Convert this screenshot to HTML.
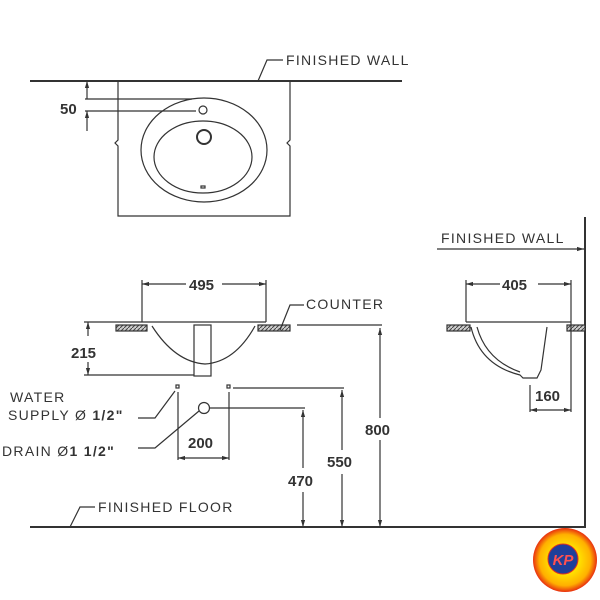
<!DOCTYPE html>
<html><head><meta charset="utf-8"><style>body{margin:0;background:#fff}svg{display:block}</style></head><body>
<svg width="600" height="600" viewBox="0 0 600 600" xmlns="http://www.w3.org/2000/svg" font-family="Liberation Sans, sans-serif">
<defs>
<marker id="a" viewBox="0 0 10 10" refX="10" refY="5" markerWidth="6" markerHeight="6" orient="auto-start-reverse"><path d="M0,2L10,5L0,8z" fill="#333"/></marker>
<pattern id="h" width="4" height="4" patternUnits="userSpaceOnUse"><rect width="4" height="4" fill="#ccc"/><path d="M0,4L4,0" stroke="#444" stroke-width="1"/></pattern>
<radialGradient id="lg"><stop offset="0.45" stop-color="#ffe000"/><stop offset="0.8" stop-color="#ffb000"/><stop offset="1" stop-color="#e83010"/></radialGradient>
</defs>
<g stroke="#333" fill="none" stroke-width="1.2">
<line x1="30" y1="81" x2="402" y2="81" stroke-width="2"/>
<path d="M118,81V140l-3,3l3,3V216H290V146l-3,-3l3,-3V81"/>
<ellipse cx="204" cy="150" rx="63" ry="52"/>
<ellipse cx="203" cy="157" rx="49" ry="36"/>
<circle cx="203" cy="110" r="4"/>
<circle cx="204" cy="137" r="7" stroke-width="2"/>
<rect x="201" y="186" width="4" height="2"/>
<line x1="85" y1="99" x2="192" y2="99"/><line x1="85" y1="111" x2="196" y2="111"/>
<line x1="87" y1="81" x2="87" y2="99" marker-start="url(#a)"/><line x1="87" y1="111" x2="87" y2="131" marker-start="url(#a)"/>
<path d="M258,81L267,60H283"/>
<line x1="142" y1="280" x2="142" y2="322"/><line x1="266" y1="280" x2="266" y2="322"/>
<line x1="142" y1="284" x2="186" y2="284" marker-start="url(#a)"/><line x1="222" y1="284" x2="266" y2="284" marker-end="url(#a)"/>
<line x1="84" y1="322" x2="266" y2="322"/>
<rect x="116" y="325" width="31" height="6" fill="url(#h)"/>
<rect x="258" y="325" width="32" height="6" fill="url(#h)"/>
<path d="M152,326Q175,362 205,364Q235,362 255,326"/>
<rect x="194" y="325" width="17" height="51"/>
<line x1="84" y1="375" x2="194" y2="375"/>
<line x1="88" y1="322" x2="88" y2="336" marker-start="url(#a)"/><line x1="88" y1="362" x2="88" y2="375" marker-end="url(#a)"/>
<path d="M280,330L290,305H304"/>
<line x1="297" y1="325" x2="382" y2="325"/>
<line x1="380" y1="328" x2="380" y2="418" marker-start="url(#a)"/><line x1="380" y1="440" x2="380" y2="527" marker-end="url(#a)"/>
<rect x="176" y="385" width="3" height="3"/><rect x="227" y="385" width="3" height="3"/>
<circle cx="204" cy="408" r="5.5"/>
<line x1="233" y1="388" x2="344" y2="388"/>
<line x1="342" y1="390" x2="342" y2="450" marker-start="url(#a)"/><line x1="342" y1="474" x2="342" y2="527" marker-end="url(#a)"/>
<line x1="210" y1="408" x2="305" y2="408"/>
<line x1="303" y1="410" x2="303" y2="468" marker-start="url(#a)"/><line x1="303" y1="492" x2="303" y2="527" marker-end="url(#a)"/>
<line x1="178" y1="392" x2="178" y2="460"/><line x1="229" y1="392" x2="229" y2="460"/>
<line x1="178" y1="458" x2="229" y2="458" marker-start="url(#a)" marker-end="url(#a)"/>
<path d="M138,418H155L175,391"/>
<path d="M138,448H155L199,411"/>
<line x1="30" y1="527" x2="585" y2="527" stroke-width="2"/>
<path d="M70,527L80,507H95"/>
<line x1="585" y1="217" x2="585" y2="528" stroke-width="2"/>
<line x1="437" y1="249" x2="584" y2="249" marker-end="url(#a)"/>
<line x1="466" y1="280" x2="466" y2="322"/><line x1="571" y1="280" x2="571" y2="322"/>
<line x1="466" y1="284" x2="500" y2="284" marker-start="url(#a)"/><line x1="538" y1="284" x2="571" y2="284" marker-end="url(#a)"/>
<line x1="466" y1="322" x2="571" y2="322"/>
<rect x="447" y="325" width="23" height="6" fill="url(#h)"/>
<rect x="567" y="325" width="18" height="6" fill="url(#h)"/>
<path d="M471,327Q480,365 520,375L523,378H537L541,370L547,327"/>
<path d="M477,327Q486,360 520,372"/>
<line x1="530" y1="385" x2="530" y2="412"/><line x1="571" y1="322" x2="571" y2="412"/>
<line x1="530" y1="410" x2="571" y2="410" marker-start="url(#a)" marker-end="url(#a)"/>
</g>
<g fill="#333" font-size="14">
<g letter-spacing="1.3">
<text x="286" y="65">FINISHED  WALL</text>
<text x="306" y="309">COUNTER</text>
<text x="10" y="402">WATER</text>
<text x="8" y="420">SUPPLY Ø <tspan font-weight="bold">1/2"</tspan></text>
<text x="2" y="456">DRAIN Ø<tspan font-weight="bold">1 1/2"</tspan></text>
<text x="98" y="512">FINISHED  FLOOR</text>
<text x="441" y="243">FINISHED  WALL</text>
</g>
<g font-weight="bold" font-size="15">
<text x="60" y="114">50</text>
<text x="189" y="290">495</text>
<text x="71" y="358">215</text>
<text x="188" y="448">200</text>
<text x="365" y="435">800</text>
<text x="327" y="467">550</text>
<text x="288" y="486">470</text>
<text x="502" y="290">405</text>
<text x="535" y="401">160</text>
</g>
</g>
<circle cx="565" cy="560" r="32" fill="url(#lg)"/>
<circle cx="563" cy="559" r="15" fill="#1f3f9a" stroke="#e03020" stroke-width="1"/>
<text x="563" y="565" text-anchor="middle" font-size="15" font-style="italic" font-weight="bold" fill="#ff5050">KP</text>
</svg>
</body></html>
